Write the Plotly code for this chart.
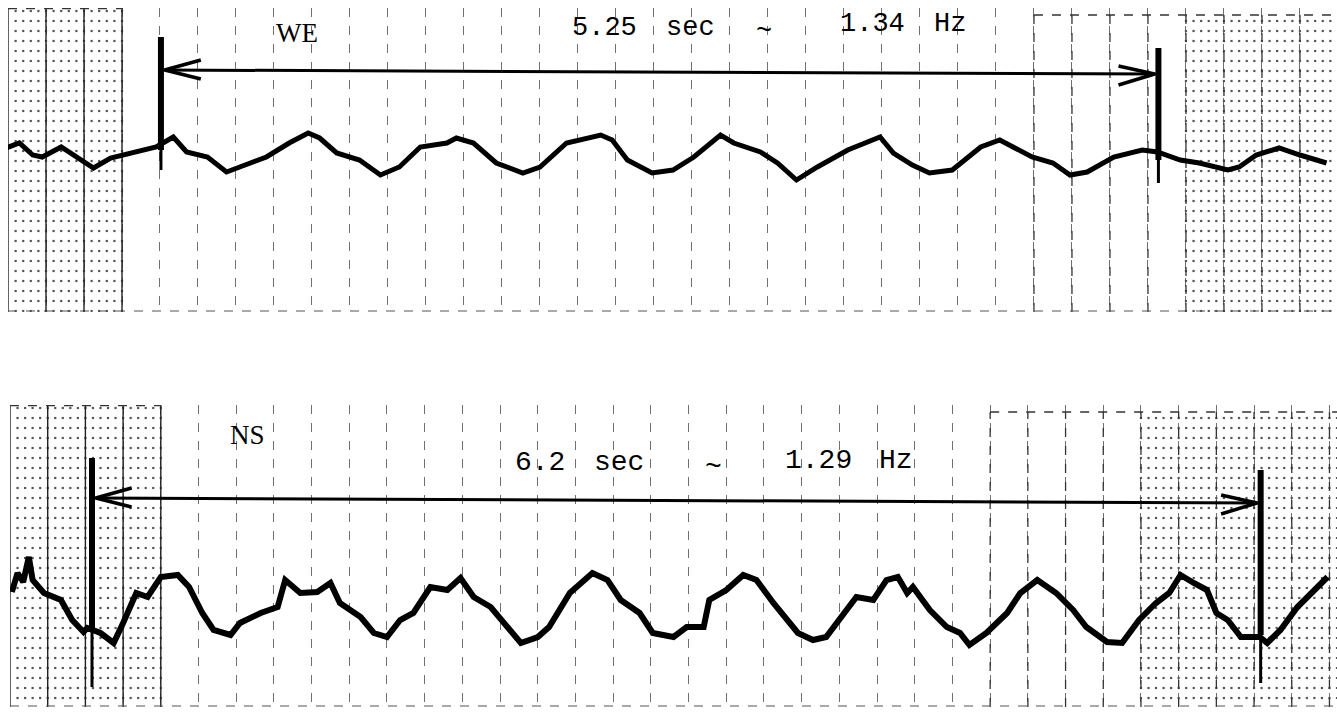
import numpy as np
import plotly.graph_objects as go

# ---------------- data (time in s, amplitude in arbitrary chart units) ----------------
we_t = [-0.01, 0.06, 0.13, 0.18, 0.28, 0.36, 0.45, 0.54, 0.66, 0.78, 0.87, 0.94, 1.05, 1.15,
        1.22, 1.36, 1.48, 1.58, 1.64, 1.73, 1.85, 1.96, 2.06, 2.17, 2.31, 2.36, 2.45, 2.57,
        2.71, 2.80, 2.94, 3.12, 3.18, 3.26, 3.39, 3.50, 3.61, 3.75, 3.82, 3.96, 4.05, 4.15,
        4.26, 4.42, 4.59, 4.66, 4.76, 4.85, 4.97, 5.12, 5.22, 5.29, 5.39, 5.50, 5.59, 5.68,
        5.82, 5.97, 6.05, 6.17, 6.27, 6.42, 6.48, 6.57, 6.69, 6.80, 6.94]
we_a = [0.2, 0.7, -0.5, -0.7, 0.3, -0.7, -1.8, -0.8, -0.2, 0.3, 1.3, -0.2, -0.7, -2.2,
        -1.7, -0.7, 0.7, 1.7, 1.2, -0.3, -1.0, -2.5, -1.7, 0.3, 0.7, 1.2, 0.7, -1.3,
        -2.3, -1.7, 0.7, 1.5, 1.0, -1.0, -2.3, -2.0, -0.7, 1.5, 0.7, -0.2, -1.3, -3.0,
        -1.7, 0.0, 1.3, -0.3, -1.5, -2.3, -2.0, 0.3, 1.0, 0.3, -0.7, -1.3, -2.5, -2.2,
        -0.7, 0.0, -0.2, -1.0, -1.3, -2.0, -1.7, -0.5, 0.2, -0.5, -1.3]

ns_t = [0.01, 0.04, 0.07, 0.10, 0.12, 0.18, 0.27, 0.33, 0.39, 0.41, 0.48, 0.55, 0.60, 0.67,
        0.73, 0.80, 0.89, 0.95, 1.02, 1.08, 1.17, 1.22, 1.33, 1.42, 1.46, 1.54, 1.63, 1.70,
        1.75, 1.86, 1.93, 2.00, 2.07, 2.14, 2.23, 2.32, 2.39, 2.46, 2.55, 2.62, 2.71, 2.80,
        2.86, 2.97, 3.09, 3.17, 3.24, 3.34, 3.41, 3.52, 3.59, 3.68, 3.71, 3.80, 3.89, 3.96,
        4.05, 4.18, 4.26, 4.33, 4.40, 4.49, 4.58, 4.65, 4.71, 4.76, 4.79, 4.88, 4.97, 5.04,
        5.09, 5.18, 5.29, 5.36, 5.45, 5.55, 5.64, 5.71, 5.82, 5.90, 5.99, 6.08, 6.15, 6.21,
        6.28, 6.35, 6.40, 6.46, 6.53, 6.63, 6.67, 6.74, 6.83, 6.90, 6.99]
ns_a = [0.8, 2.7, 1.8, 4.3, 2.0, 0.7, 0.0, -2.0, -3.2, -2.8, -3.3, -4.3, -2.3, 0.7,
        0.3, 2.3, 2.5, 1.3, -1.3, -3.0, -3.5, -2.3, -1.3, -0.7, 2.0, 0.7, 0.8, 1.7,
        -0.3, -1.7, -3.3, -3.7, -2.0, -1.3, 1.3, 1.0, 2.2, 0.3, -0.7, -2.3, -4.3, -3.7,
        -2.7, 0.7, 2.7, 2.0, 0.0, -1.3, -3.3, -3.7, -2.7, -2.7, 0.0, 1.0, 2.5, 2.0,
        -0.3, -3.3, -4.0, -3.7, -2.0, 0.3, 0.0, 2.0, 2.3, 0.7, 1.3, -1.0, -2.7, -3.3,
        -4.5, -3.3, -1.3, 0.7, 2.0, 0.7, -1.0, -2.7, -4.2, -4.3, -2.0, -0.3, 0.7, 2.5,
        1.7, 1.0, -1.3, -2.0, -3.7, -3.7, -4.3, -3.0, -0.7, 0.7, 2.3]

labels = ["WE", "NS"]
durations = [5.25, 6.2]          # s between markers
freq_text = ["1.34 Hz", "1.29 Hz"]
starts = [0.805, 0.435]          # time of first marker

# ---------------- styling / layout ----------------
W, H = 1337, 712
INK = "#000000"
fig = go.Figure()

panels = [
    dict(xa="x", ya="y", xr=[0, 6.995], yr=[-16.2, 14.2], dom_y=[1 - 312 / H, 1 - 8 / H], dom_x=[8 / W, 1],
         left_end=0.6, right_start=5.4, right_top=13.5, dots_left=0.6, dots_right=6.2,
         mk=[(11.3, -2.0, 0.0), (10.2, -3.3, -1.0)], arrow_y=(8.0, 7.6), lw=5),
    dict(xa="x2", ya="y2", xr=[0, 7.04], yr=[-10.7, 19.5], dom_y=[1 - 707 / H, 1 - 405 / H], dom_x=[10 / W, 1],
         left_end=0.8, right_start=5.2, right_top=18.8, dots_left=0.8, dots_right=6.0,
         mk=[(14.2, -8.7, -3.0), (13.0, -8.3, -3.5)], arrow_y=(10.2, 9.7), lw=6),
]


def seg_trace(segs, xa, ya, color, width, dash="solid"):
    xs, ys = [], []
    for (x0, y0), (x1, y1) in segs:
        xs += [x0, x1, None]
        ys += [y0, y1, None]
    return go.Scatter(x=xs, y=ys, mode="lines", xaxis=xa, yaxis=ya, hoverinfo="skip",
                      line=dict(color=color, width=width, dash=dash), showlegend=False)


for i, p in enumerate(panels):
    xa, ya = p["xa"], p["ya"]
    x0, x1 = p["xr"]
    y0, y1 = p["yr"]
    # dotted minor grid: dots at 0.04 s x 1 unit intersections
    dx, dy = [], []
    rows = np.arange(y1 - 0.3, y0, -1.0)
    for t in np.arange(0.04, p["dots_left"] + 1e-6, 0.04):
        for a in rows:
            dx.append(t); dy.append(a)
    for t in np.arange(np.ceil(p["dots_right"] / 0.04) * 0.04, x1 + 1e-6, 0.04):
        for a in rows:
            if a <= p["right_top"] - 0.5:
                dx.append(t); dy.append(a)
    fig.add_trace(go.Scatter(x=dx, y=dy, mode="markers", xaxis=xa, yaxis=ya, hoverinfo="skip",
                             marker=dict(symbol="square", size=2.2, color="#555555", line=dict(width=0)),
                             showlegend=False))
    # stronger major lines in the printed regions
    major = []
    for t in np.arange(0, p["left_end"] + 1e-6, 0.2):
        major.append(((t, y0), (t, y1)))
    fig.add_trace(seg_trace(major, xa, ya, "#222222", 1.4))
    right = []
    for t in np.arange(p["right_start"], x1 + 1e-6, 0.2):
        right.append(((t, y0), (t, p["right_top"])))
    fig.add_trace(seg_trace(right, xa, ya, "#333333", 1.3, "dash"))
    tops = [((0, y1 - 0.05), (p["left_end"], y1 - 0.05)),
            ((p["right_start"], p["right_top"]), (x1, p["right_top"]))]
    fig.add_trace(seg_trace(tops, xa, ya, "#333333", 1.3, "dash"))
    # bottom border
    fig.add_trace(seg_trace([((0, y0 + 0.1), (x1, y0 + 0.1))], xa, ya, "#555555", 1.2, "dash"))

    # trace
    tt, aa = (we_t, we_a) if i == 0 else (ns_t, ns_a)
    fig.add_trace(go.Scatter(x=tt, y=aa, mode="lines", xaxis=xa, yaxis=ya, hoverinfo="skip",
                             line=dict(color=INK, width=p["lw"]), showlegend=False))

    # time markers (thick upper part, thinner tail)
    t_a = starts[i]
    t_b = starts[i] + durations[i]
    (m1_top, m1_bot, m1_mid), (m2_top, m2_bot, m2_mid) = p["mk"]
    fig.add_trace(seg_trace([((t_a, m1_top), (t_a, m1_mid)), ((t_b, m2_top), (t_b, m2_mid))],
                            xa, ya, INK, 6))
    fig.add_trace(seg_trace([((t_a, m1_mid), (t_a, m1_bot)), ((t_b, m2_mid), (t_b, m2_bot))],
                            xa, ya, INK, 3))
    # arrow with open heads
    ya_l, ya_r = p["arrow_y"]
    hx, hy = 0.19, 1.0
    arrow = [((t_a, ya_l), (t_b, ya_r))]
    heads = [((t_a + 0.02, ya_l), (t_a + 0.02 + hx, ya_l + hy)),
             ((t_a + 0.02, ya_l), (t_a + 0.02 + hx, ya_l - hy * 0.9)),
             ((t_b - 0.02, ya_r), (t_b - 0.02 - hx, ya_r + hy * 0.8)),
             ((t_b - 0.02, ya_r), (t_b - 0.02 - hx, ya_r - hy * 1.1))]
    fig.add_trace(seg_trace(arrow, xa, ya, INK, 3))
    fig.add_trace(seg_trace(heads, xa, ya, INK, 3.5))

# ---------------- text ----------------
mono = "Liberation Mono, Courier New, monospace"
serif = "Liberation Serif, Times New Roman, serif"
texts = [
    ("x", "y", 1.52, 11.7, labels[0], serif, 27),
    ("x", "y", 3.14, 12.2, f"{durations[0]:.2f}", mono, 27),
    ("x", "y", 3.59, 12.2, "sec", mono, 27),
    ("x", "y", 3.98, 11.8, "~", mono, 27),
    ("x", "y", 4.55, 12.6, freq_text[0].split()[0], mono, 27),
    ("x", "y", 4.96, 12.6, "Hz", mono, 27),
    ("x2", "y2", 1.26, 16.5, labels[1], serif, 27),
    ("x2", "y2", 2.81, 13.8, f"{durations[1]:.1f}", mono, 28),
    ("x2", "y2", 3.23, 13.8, "sec", mono, 28),
    ("x2", "y2", 3.73, 13.3, "~", mono, 28),
    ("x2", "y2", 4.29, 14.0, freq_text[1].split()[0], mono, 28),
    ("x2", "y2", 4.70, 14.0, "Hz", mono, 28),
]
for xr_, yr_, x, y, s, fam, sz in texts:
    fig.add_annotation(xref=xr_, yref=yr_, x=x, y=y, text=s, showarrow=False,
                       font=dict(family=fam, size=sz, color=INK), xanchor="center", yanchor="middle")

axis_common = dict(showticklabels=False, ticks="", zeroline=False, showline=False)
p0, p1 = panels
fig.update_layout(
    width=W, height=H, margin=dict(l=0, r=0, t=0, b=0),
    paper_bgcolor="white", plot_bgcolor="white", showlegend=False,
    xaxis=dict(domain=p0["dom_x"], range=p0["xr"], anchor="y", showgrid=True, dtick=0.2, tick0=0,
               gridcolor="#707070", griddash="dash", gridwidth=1, **axis_common),
    yaxis=dict(domain=p0["dom_y"], range=p0["yr"], anchor="x", showgrid=False, **axis_common),
    xaxis2=dict(domain=p1["dom_x"], range=p1["xr"], anchor="y2", showgrid=True, dtick=0.2, tick0=0,
                gridcolor="#707070", griddash="dash", gridwidth=1, **axis_common),
    yaxis2=dict(domain=p1["dom_y"], range=p1["yr"], anchor="x2", showgrid=False, **axis_common),
)

fig.write_html("out.html", config={"displayModeBar": False},
               post_script="document.body.style.margin='0';")
